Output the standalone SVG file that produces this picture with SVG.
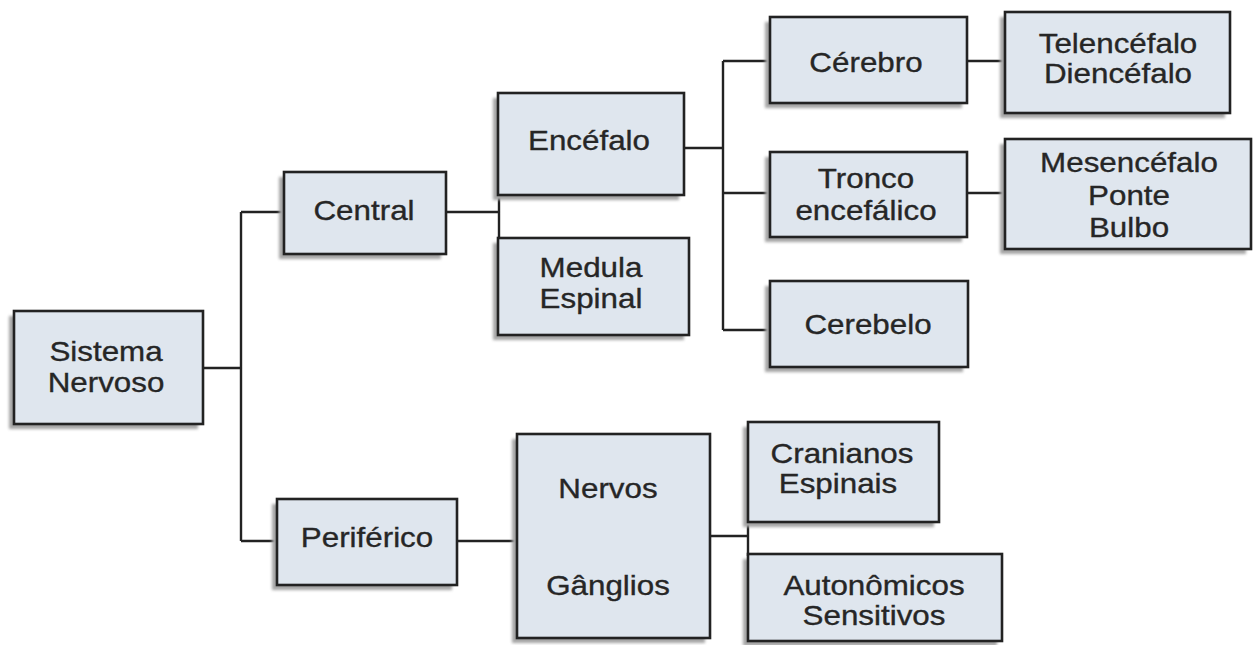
<svg xmlns="http://www.w3.org/2000/svg" width="1254" height="645" viewBox="0 0 1254 645">
<defs>
<filter id="sh" x="-10%" y="-10%" width="120%" height="120%">
<feGaussianBlur stdDeviation="1.5"/>
</filter>
</defs>
<style>
.box{fill:#dfe6ee;stroke:#222222;stroke-width:2.6}
.shd{fill:#a4a4a4;filter:url(#sh)}
.ln{fill:none;stroke:#222222;stroke-width:2.4}
text{font-family:"Liberation Sans",Arial,sans-serif;font-size:28px;fill:#262626;stroke:#262626;stroke-width:0.35;text-anchor:middle}
</style>
<rect width="1254" height="645" fill="#ffffff"/>
<g id="connectors">
<path class="ln" d="M203 368H241M241 212V541M241 212H284M241 541H277"/>
<path class="ln" d="M446 212H499M499 190V240"/>
<path class="ln" d="M684 148H723M723 61V330M723 61H770M723 193H770M723 330H770"/>
<path class="ln" d="M967 61H1005M967 193H1005"/>
<path class="ln" d="M457 541H517"/>
<path class="ln" d="M710 536H748M748 520V556"/>
</g>
<g id="n-sistema">
<rect class="shd" x="9" y="316" width="189" height="113"/>
<rect class="box" x="14" y="311" width="189" height="113"/>
<text transform="translate(106 361) scale(1.12 1)">Sistema</text>
<text transform="translate(106 392) scale(1.12 1)">Nervoso</text>
</g>
<g id="n-central">
<rect class="shd" x="279" y="177" width="162" height="82"/>
<rect class="box" x="284" y="172" width="162" height="82"/>
<text transform="translate(364 220) scale(1.12 1)">Central</text>
</g>
<g id="n-periferico">
<rect class="shd" x="272" y="504" width="180" height="86"/>
<rect class="box" x="277" y="499" width="180" height="86"/>
<text transform="translate(367 547) scale(1.12 1)">Periférico</text>
</g>
<g id="n-encefalo">
<rect class="shd" x="493" y="98" width="186" height="102"/>
<rect class="box" x="498" y="93" width="186" height="102"/>
<text transform="translate(589 150) scale(1.12 1)">Encéfalo</text>
</g>
<g id="n-medula">
<rect class="shd" x="493" y="243" width="191" height="97"/>
<rect class="box" x="498" y="238" width="191" height="97"/>
<text transform="translate(591 277) scale(1.12 1)">Medula</text>
<text transform="translate(591 308) scale(1.12 1)">Espinal</text>
</g>
<g id="n-cerebro">
<rect class="shd" x="765" y="22" width="197" height="86"/>
<rect class="box" x="770" y="17" width="197" height="86"/>
<text transform="translate(866 72) scale(1.12 1)">Cérebro</text>
</g>
<g id="n-tronco">
<rect class="shd" x="765" y="157" width="197" height="85"/>
<rect class="box" x="770" y="152" width="197" height="85"/>
<text transform="translate(866 188) scale(1.12 1)">Tronco</text>
<text transform="translate(866 220) scale(1.12 1)">encefálico</text>
</g>
<g id="n-cerebelo">
<rect class="shd" x="765" y="286" width="198" height="86"/>
<rect class="box" x="770" y="281" width="198" height="86"/>
<text transform="translate(868 334) scale(1.12 1)">Cerebelo</text>
</g>
<g id="n-telencefalo">
<rect class="shd" x="1000" y="17" width="225" height="101"/>
<rect class="box" x="1005" y="12" width="225" height="101"/>
<text transform="translate(1118 53) scale(1.12 1)">Telencéfalo</text>
<text transform="translate(1118 83) scale(1.12 1)">Diencéfalo</text>
</g>
<g id="n-mesencefalo">
<rect class="shd" x="1000" y="144" width="246" height="110"/>
<rect class="box" x="1005" y="139" width="246" height="110"/>
<text transform="translate(1129 172) scale(1.12 1)">Mesencéfalo</text>
<text transform="translate(1129 205) scale(1.12 1)">Ponte</text>
<text transform="translate(1129 237) scale(1.12 1)">Bulbo</text>
</g>
<g id="n-nervos">
<rect class="shd" x="512" y="439" width="193" height="204"/>
<rect class="box" x="517" y="434" width="193" height="204"/>
<text transform="translate(608 498) scale(1.12 1)">Nervos</text>
<text transform="translate(608 595) scale(1.12 1)">Gânglios</text>
</g>
<g id="n-cranianos">
<rect class="shd" x="743" y="427" width="191" height="100"/>
<rect class="box" x="748" y="422" width="191" height="100"/>
<text transform="translate(842 463) scale(1.12 1)">Cranianos</text>
<text transform="translate(838 493) scale(1.12 1)">Espinais</text>
</g>
<g id="n-autonomicos">
<rect class="shd" x="743" y="559" width="254" height="87"/>
<rect class="box" x="748" y="554" width="254" height="87"/>
<text transform="translate(874 595) scale(1.12 1)">Autonômicos</text>
<text transform="translate(874 625) scale(1.12 1)">Sensitivos</text>
</g>
</svg>
